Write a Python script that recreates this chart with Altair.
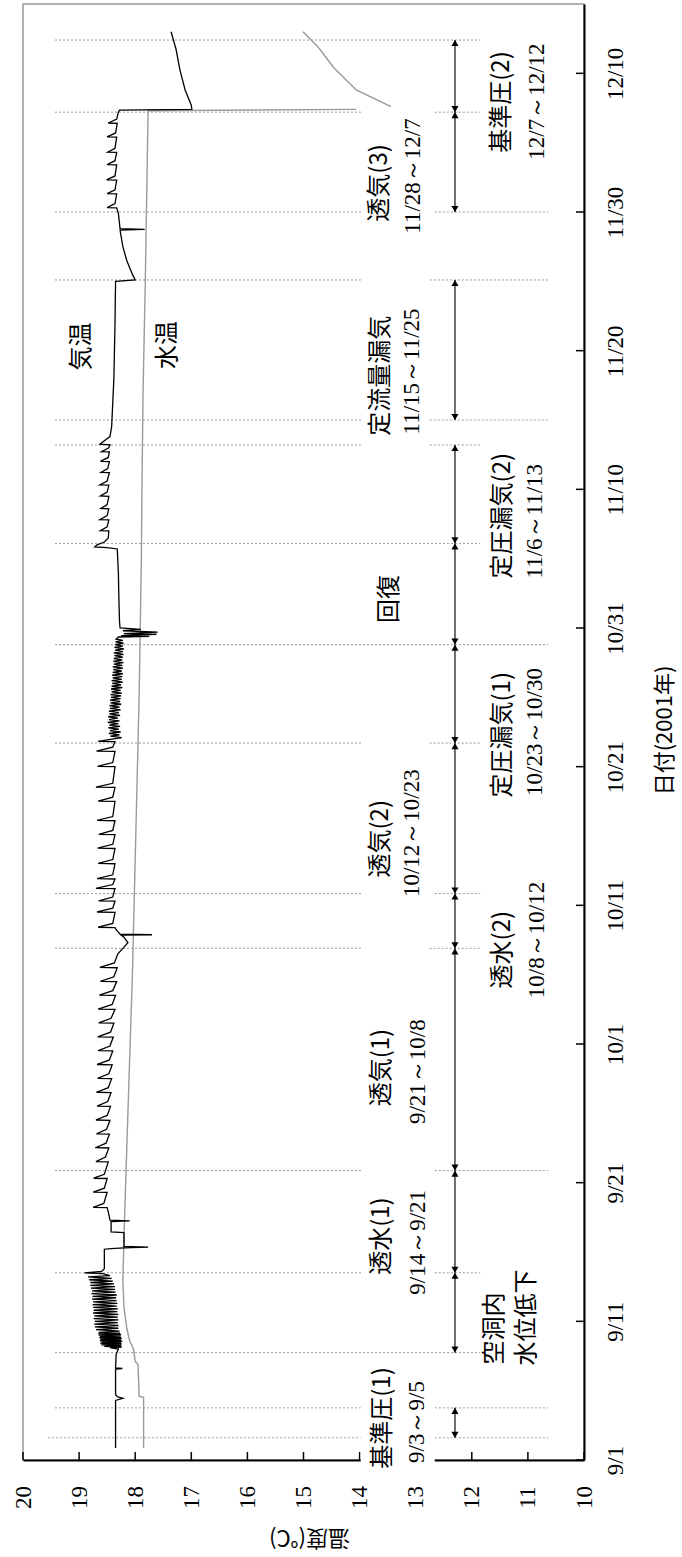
import altair as alt
import pandas as pd

# ---------------- axis ticks ----------------
TEMP_TICKS = [20, 19, 18, 17, 16, 15, 14, 13, 12, 11, 10]
DATE_TICK_DAYS = [0, 10, 20, 30, 40, 50, 60, 70, 80, 90, 100]
DATE_TICK_LABELS = ["9/1", "9/11", "9/21", "10/1", "10/11", "10/21",
                    "10/31", "11/10", "11/20", "11/30", "12/10"]

# ---------------- measured series: (days after 9/1, deg C) ----------------
AIR_SEP = [
    (0.87, 18.35), (4.3, 18.35), (4.45, 18.22), (4.55, 18.31), (4.7, 18.35),
    (6.55, 18.35), (6.6, 18.23), (6.65, 18.35), (7.6, 18.34), (8.0, 18.30),
    (8.1, 18.45), (8.15, 18.24), (8.2, 18.55), (8.25, 18.25), (8.3, 18.60),
    (8.35, 18.24), (8.4, 18.62), (8.45, 18.25), (8.5, 18.60), (8.55, 18.23),
    (8.6, 18.63), (8.65, 18.25), (8.7, 18.62), (8.75, 18.24), (8.8, 18.64),
    (8.85, 18.25), (8.9, 18.63), (8.95, 18.26), (9.0, 18.65), (9.05, 18.25),
    (9.1, 18.66), (9.15, 18.27), (9.2, 18.65), (9.3, 18.28), (9.4, 18.70),
    (9.5, 18.30), (9.6, 18.72), (9.7, 18.30), (9.8, 18.73), (9.9, 18.31),
    (10.0, 18.72), (10.1, 18.30), (10.2, 18.74), (10.3, 18.31), (10.4, 18.73),
    (10.5, 18.30), (10.6, 18.75), (10.7, 18.32), (10.8, 18.74), (10.9, 18.31),
    (11.0, 18.75), (11.1, 18.33), (11.2, 18.76), (11.3, 18.32), (11.4, 18.75),
    (11.5, 18.33), (11.6, 18.77), (11.7, 18.34), (11.8, 18.76), (11.9, 18.33),
    (12.0, 18.78), (12.1, 18.35), (12.2, 18.77), (12.3, 18.36), (12.4, 18.79),
    (12.5, 18.36), (12.6, 18.80), (12.7, 18.38), (12.8, 18.80), (12.9, 18.40),
    (13.0, 18.82), (13.1, 18.42), (13.2, 18.84), (13.3, 18.45), (13.45, 18.60),
    (13.5, 18.90), (13.6, 18.60), (13.8, 18.55), (15.2, 18.55), (15.25, 18.43),
    (15.3, 18.20), (15.35, 17.77), (15.4, 18.20), (16.4, 18.20), (16.45, 18.43),
    (17.2, 18.43), (17.25, 18.10), (17.3, 18.45), (17.9, 18.48), (18.2, 18.50),
    (18.22, 18.75), (18.5, 18.56), (19.3, 18.50), (19.32, 18.75), (19.6, 18.55),
    (20.3, 18.50), (20.32, 18.74), (20.6, 18.55), (21.5, 18.48), (21.52, 18.70),
    (21.85, 18.53), (22.5, 18.47), (22.52, 18.71), (22.85, 18.52), (23.5, 18.46),
    (23.52, 18.69), (23.85, 18.51), (24.5, 18.45), (24.52, 18.70), (24.85, 18.50),
    (25.5, 18.44), (25.52, 18.68), (25.85, 18.49), (26.5, 18.43), (26.52, 18.69),
    (26.85, 18.48), (27.5, 18.42), (27.52, 18.67), (27.85, 18.47), (28.5, 18.41),
    (28.52, 18.68), (28.85, 18.46), (29.5, 18.40), (29.52, 18.66), (29.85, 18.45),
]
AIR_OCT = [
    (30.5, 18.39), (30.52, 18.67), (30.85, 18.44), (31.5, 18.38), (31.52, 18.65),
    (31.85, 18.43), (32.5, 18.36), (32.52, 18.66), (32.85, 18.41), (33.5, 18.35),
    (33.52, 18.64), (33.85, 18.40), (34.5, 18.33), (34.52, 18.62), (34.85, 18.38),
    (35.5, 18.32), (35.52, 18.63), (35.85, 18.37), (36.5, 18.31), (36.9, 18.22),
    (37.3, 18.13), (37.7, 18.20), (37.85, 18.25), (37.88, 17.70), (37.92, 18.27),
    (38.3, 18.35), (38.4, 18.36), (38.42, 18.66), (38.7, 18.40), (39.5, 18.36),
    (39.52, 18.68), (39.8, 18.40), (40.3, 18.36), (40.32, 18.65), (40.6, 18.40),
    (41.2, 18.36), (41.22, 18.70), (41.5, 18.40), (41.9, 18.36), (41.92, 18.68),
    (42.2, 18.40), (43.0, 18.36), (43.02, 18.66), (43.3, 18.40), (44.1, 18.36),
    (44.12, 18.67), (44.4, 18.40), (45.1, 18.36), (45.12, 18.65), (45.4, 18.40),
    (46.1, 18.36), (46.12, 18.68), (46.4, 18.40), (47.5, 18.36), (47.52, 18.66),
    (47.8, 18.40), (48.5, 18.36), (48.52, 18.70), (48.8, 18.40), (50.0, 18.36),
    (50.02, 18.67), (50.3, 18.40), (51.1, 18.36), (51.12, 18.69), (51.4, 18.40),
    (51.8, 18.36), (51.82, 18.66), (52.0, 18.38), (52.1, 18.24), (52.2, 18.44),
    (52.3, 18.28), (52.4, 18.47), (52.5, 18.26), (52.6, 18.45), (52.7, 18.29),
    (52.8, 18.48), (52.9, 18.27), (53.0, 18.46), (53.1, 18.30), (53.2, 18.49),
    (53.3, 18.28), (53.4, 18.47), (53.5, 18.31), (53.6, 18.48), (53.7, 18.27),
    (53.8, 18.46), (53.9, 18.29), (54.0, 18.47), (54.1, 18.26), (54.2, 18.45),
    (54.3, 18.28), (54.4, 18.46), (54.5, 18.25), (54.6, 18.44), (54.7, 18.27),
    (54.8, 18.45), (54.9, 18.26), (55.0, 18.43), (55.1, 18.25), (55.2, 18.44),
    (55.3, 18.24), (55.4, 18.42), (55.5, 18.26), (55.6, 18.43), (55.7, 18.23),
    (55.8, 18.42), (55.9, 18.25), (56.0, 18.41), (56.1, 18.22), (56.2, 18.42),
    (56.3, 18.24), (56.4, 18.40), (56.5, 18.23), (56.6, 18.41), (56.7, 18.22),
    (56.8, 18.40), (56.9, 18.24), (57.0, 18.39), (57.1, 18.22), (57.2, 18.40),
    (57.3, 18.23), (57.4, 18.38), (57.5, 18.21), (57.6, 18.39), (57.7, 18.23),
    (57.8, 18.38), (57.9, 18.22), (58.0, 18.37), (58.1, 18.21), (58.2, 18.38),
    (58.3, 18.22), (58.4, 18.36), (58.5, 18.20), (58.6, 18.37), (58.7, 18.22),
    (58.8, 18.36), (58.9, 18.21), (59.0, 18.35), (59.1, 18.22), (59.2, 18.34),
    (59.35, 18.30), (59.4, 17.75), (59.45, 18.25), (59.55, 17.62), (59.6, 18.20),
    (59.7, 17.60), (59.8, 18.22), (59.9, 17.90), (60.0, 18.27), (60.5, 18.28),
]
AIR_NOV = [
    (62.0, 18.29), (64.0, 18.30), (65.7, 18.32), (65.8, 18.50), (65.85, 18.72),
    (66.0, 18.68), (66.2, 18.55), (66.5, 18.48), (67.0, 18.47), (67.02, 18.62),
    (67.3, 18.50), (67.8, 18.47), (67.82, 18.63), (68.1, 18.50), (68.6, 18.47),
    (68.62, 18.61), (68.9, 18.50), (69.5, 18.47), (69.52, 18.62), (69.8, 18.50),
    (70.3, 18.47), (70.32, 18.63), (70.6, 18.50), (71.2, 18.46), (71.22, 18.61),
    (71.5, 18.49), (72.0, 18.46), (72.02, 18.62), (72.3, 18.48), (72.7, 18.46),
    (72.72, 18.60), (73.0, 18.47), (73.2, 18.45), (73.25, 18.63), (73.5, 18.55),
    (73.8, 18.45), (74.5, 18.42), (78.0, 18.38), (82.0, 18.36), (85.0, 18.35),
    (85.1, 18.00), (85.5, 18.05), (86.5, 18.15), (87.5, 18.22), (88.7, 18.27),
    (88.75, 17.83), (88.8, 18.27), (89.9, 18.30), (90.3, 18.33), (90.32, 18.50),
    (90.6, 18.36), (91.3, 18.33), (91.32, 18.50), (91.6, 18.36), (92.3, 18.33),
    (92.32, 18.51), (92.6, 18.36), (93.4, 18.33), (93.42, 18.50), (93.7, 18.36),
    (94.3, 18.33), (94.32, 18.49), (94.6, 18.36), (95.4, 18.33), (95.42, 18.50),
    (95.7, 18.35), (96.4, 18.32), (96.42, 18.48), (96.7, 18.33), (97.2, 18.30),
    (97.35, 18.28),
]
AIR_DEC = [
    (97.4, 16.99), (97.7, 17.00), (98.8, 17.11), (100.2, 17.20), (101.7, 17.27),
    (103.0, 17.36),
]
WATER = [
    (0.87, 17.85), (4.5, 17.85), (4.6, 17.93), (6.9, 17.95), (7.1, 18.00),
    (8.0, 18.03), (8.6, 18.10), (9.5, 18.15), (11.0, 18.20), (13.0, 18.22),
    (16.0, 18.20), (20.0, 18.17), (25.0, 18.13), (30.0, 18.09), (35.0, 18.05),
    (40.0, 18.02), (45.0, 17.99), (50.0, 17.96), (55.0, 17.93), (60.0, 17.91),
    (65.0, 17.89), (70.0, 17.88), (77.0, 17.86), (85.0, 17.82), (90.0, 17.80),
    (97.3, 17.77), (97.4, 14.06),
]
WATER_DEC = [
    (97.6, 13.44), (98.8, 14.06), (100.4, 14.46), (101.9, 14.74), (103.0, 15.01),
]

# ---------------- test periods ----------------
# boundary day and the visible stretches of each dotted line (deg C from, to)
BOUNDARY_DAYS = [1.6, 3.76, 7.74, 13.5, 20.87, 36.9, 40.85, 51.7, 58.8,
                 66.1, 73.2, 75.0, 85.1, 90.0, 97.2, 102.4]
BOUNDARY_SPANS = [
    [(19.55, 13.96), (12.66, 10.64)],
    [(19.43, 13.96), (12.66, 10.64)],
    [(19.43, 11.85)],
    [(19.43, 13.96), (12.66, 11.85)],
    [(19.43, 13.96), (12.66, 10.64)],
    [(19.43, 13.96), (12.75, 11.85)],
    [(19.43, 13.96), (12.66, 11.85)],
    [(19.43, 13.96), (12.75, 11.85)],
    [(19.43, 10.64)],
    [(19.43, 11.85)],
    [(19.43, 13.96), (12.75, 11.85)],
    [(19.43, 13.96), (12.75, 10.64)],
    [(19.43, 13.96), (12.75, 10.64)],
    [(19.43, 13.96), (12.66, 10.64)],
    [(19.43, 13.96), (12.66, 11.85)],
    [(19.43, 11.85)],
]
ARROW_TEMP = 12.30
ARROW_START = [1.6, 7.74, 13.5, 20.87, 36.9, 40.85, 51.7, 58.8, 66.1, 75.0, 90.0, 97.2]
ARROW_END = [3.76, 13.5, 20.87, 36.9, 40.85, 51.7, 58.8, 66.1, 73.2, 85.1, 97.2, 102.4]

# annotation text: (text, deg C, day)
NAME_LABELS = [
    ("基準圧(1)", 13.58, 3.03), ("空洞内", 11.59, 9.48), ("水位低下", 11.02, 10.27),
    ("透水(1)", 13.60, 16.15), ("透気(1)", 13.60, 28.3), ("透水(2)", 11.44, 36.8),
    ("透気(2)", 13.62, 44.8), ("定圧漏気(1)", 11.44, 52.3), ("回復", 13.46, 62.1),
    ("定圧漏気(2)", 11.44, 68.1), ("定流量漏気", 13.61, 78.2), ("透気(3)", 13.64, 92.1),
    ("基準圧(2)", 11.47, 97.93), ("気温", 18.94, 80.3), ("水温", 17.42, 80.4),
]
DATE_LABELS = [
    ("9/3～9/5", 12.98, 2.74), ("9/14～9/21", 12.96, 15.7), ("9/21～10/8", 12.96, 28.0),
    ("10/8～10/12", 10.84, 37.5), ("10/12～10/23", 13.07, 45.2),
    ("10/23～10/30", 10.87, 52.5), ("11/6～11/13", 10.87, 67.7),
    ("11/15～11/25", 13.07, 78.5), ("11/28～12/7", 13.05, 92.6),
    ("12/7～12/12", 10.84, 97.96),
]

W, H = 561, 1456
JP_FONT = "Noto Sans CJK JP"
NUM_FONT = "Liberation Serif"

x_scale = alt.Scale(domain=[10, 20], reverse=True, nice=False, zero=False)
y_scale = alt.Scale(domain=[0, 105], nice=False, zero=False)

label_expr = "[" + ",".join(f"'{s}'" for s in DATE_TICK_LABELS) + "][round(datum.value / 10)]"

x_axis = alt.Axis(
    values=TEMP_TICKS, orient="bottom", title="温度(℃)", grid=False, ticks=False,
    labelAngle=270, labelAlign="center", labelBaseline="middle", labelPadding=37,
    labelFont=NUM_FONT, labelFontSize=23, labelColor="black", labelFlush=False,
    labelOverlap=False, domainColor="black", domainWidth=2,
    titleFont=JP_FONT, titleFontSize=22, titleFontWeight="normal", titleColor="black",
    titleAngle=180, titleAlign="center", titleBaseline="middle", titleX=286, titleY=77,
)
y_axis = alt.Axis(
    values=DATE_TICK_DAYS, orient="right", title="日付(2001年)", grid=False, ticks=False,
    labelExpr=label_expr, labelAngle=270, labelAlign="center",
    labelBaseline="middle", labelPadding=31, labelFont=NUM_FONT, labelFontSize=23,
    labelColor="black", labelFlush=False, labelOverlap=False, domainColor="black",
    domainWidth=2, titleFont=JP_FONT, titleFontSize=22, titleFontWeight="normal",
    titleColor="black", titleAngle=270, titleAlign="center", titleBaseline="middle",
    titleX=80, titleY=726,
)


def X(field):
    return alt.X(field, scale=x_scale, axis=x_axis)


def Y(field):
    return alt.Y(field, scale=y_scale, axis=y_axis)


def series_frame(points, seg):
    return pd.DataFrame({"d": [p[0] for p in points], "T": [p[1] for p in points],
                         "i": list(range(len(points))), "seg": seg})


air = series_frame(AIR_SEP + AIR_OCT + AIR_NOV + AIR_DEC, 0)
water = pd.concat([series_frame(WATER, 0), series_frame(WATER_DEC, 1)])

bounds = pd.DataFrame([{"d": d, "T": a, "T2": b}
                       for d, spans in zip(BOUNDARY_DAYS, BOUNDARY_SPANS) for a, b in spans])
arrows = pd.DataFrame({"T": ARROW_TEMP, "d": ARROW_START, "d2": ARROW_END})
heads_up = pd.DataFrame({"T": ARROW_TEMP, "d": ARROW_END})
heads_down = pd.DataFrame({"T": ARROW_TEMP, "d": ARROW_START})
names = pd.DataFrame(NAME_LABELS, columns=["label", "T", "d"])
dates = pd.DataFrame(DATE_LABELS, columns=["label", "T", "d"])
temp_ticks = pd.DataFrame({"T": TEMP_TICKS})
date_ticks = pd.DataFrame({"d": DATE_TICK_DAYS})

# dotted period boundaries
boundary_layer = alt.Chart(bounds).mark_rule(
    color="#9a9a9a", strokeWidth=1, strokeDash=[2, 2]
).encode(x=X("T:Q"), x2="T2:Q", y=Y("d:Q"))

water_layer = alt.Chart(water).mark_line(color="#9a9a9a", strokeWidth=1.4).encode(
    x=X("T:Q"), y=Y("d:Q"), order="i:Q", detail="seg:N",
)
air_layer = alt.Chart(air).mark_line(color="black", strokeWidth=1.3).encode(
    x=X("T:Q"), y=Y("d:Q"), order="i:Q",
)

arrow_layer = alt.Chart(arrows).mark_rule(color="#222", strokeWidth=1.3).encode(
    x=X("T:Q"), y=Y("d:Q"), y2="d2:Q",
)
head_up_layer = alt.Chart(heads_up).mark_point(
    shape="triangle-up", filled=True, size=50, color="black", opacity=1, yOffset=3
).encode(x=X("T:Q"), y=Y("d:Q"))
head_down_layer = alt.Chart(heads_down).mark_point(
    shape="triangle-down", filled=True, size=50, color="black", opacity=1, yOffset=-3
).encode(x=X("T:Q"), y=Y("d:Q"))

# inward tick marks on both axes
temp_tick_layer = alt.Chart(temp_ticks).mark_rule(color="black", strokeWidth=1.5).encode(
    x=X("T:Q"), y=alt.value(H), y2=alt.value(H - 8),
)
date_tick_layer = alt.Chart(date_ticks).mark_rule(color="black", strokeWidth=1.5).encode(
    y=Y("d:Q"), x=alt.value(W), x2=alt.value(W - 8),
)

# white box behind the first period label, which sits over the axis line
mask_layer = alt.Chart(pd.DataFrame({"T": [13.98], "T2": [12.66], "d": [-0.8], "d2": [5.8]})).mark_rect(
    color="white", opacity=1
).encode(x=X("T:Q"), x2="T2:Q", y=Y("d:Q"), y2="d2:Q")

name_layer = alt.Chart(names).mark_text(
    font=JP_FONT, fontSize=24, angle=270, align="center", baseline="middle", color="black"
).encode(x=X("T:Q"), y=Y("d:Q"), text="label:N")
date_layer = alt.Chart(dates).mark_text(
    font=NUM_FONT, fontSize=23, angle=270, align="center", baseline="middle", color="black"
).encode(x=X("T:Q"), y=Y("d:Q"), text="label:N")

chart = alt.layer(
    boundary_layer, water_layer, air_layer, arrow_layer, head_up_layer, head_down_layer,
    temp_tick_layer, date_tick_layer, mask_layer, name_layer, date_layer,
).properties(
    width=W, height=H,
    autosize=alt.AutoSizeParams(type="none"),
    padding={"left": 23, "top": 4, "right": 98, "bottom": 97},
    background="white",
).configure_view(stroke="#999999", strokeWidth=1.5)

chart.save("out.html", embed_options={"renderer": "svg", "actions": False})
